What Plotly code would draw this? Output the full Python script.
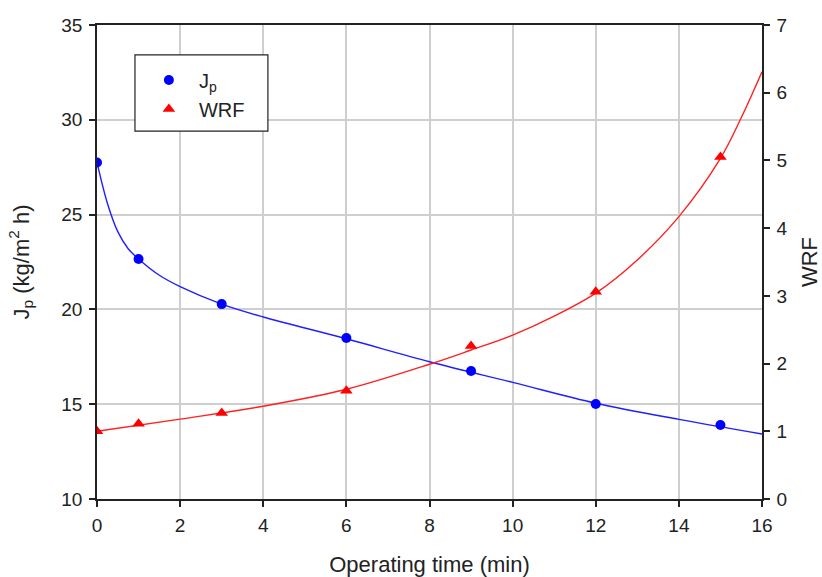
import plotly.graph_objects as go

# measured data
time_min = [0, 1, 3, 6, 9, 12, 15]
jp_vals = [27.75, 22.66, 20.28, 18.49, 16.75, 15.01, 13.9]
wrf_vals = [1.0, 1.11, 1.27, 1.6, 2.26, 3.06, 5.05]

# fitted curves
jp_fit_t = [0, 0.25, 0.5, 0.75, 1, 1.5, 2, 3, 4, 6, 8, 10, 12, 14, 16]
jp_fit_v = [27.75, 25.6, 24.1, 23.2, 22.66, 21.8, 21.2, 20.28, 19.6, 18.45, 17.24, 16.15, 15.05, 14.2, 13.43]
wrf_fit_t = [0, 2, 4, 6, 8, 9, 10, 11, 12, 13, 14, 15, 15.5, 16]
wrf_fit_v = [1.0, 1.18, 1.37, 1.62, 1.99, 2.2, 2.42, 2.7, 3.04, 3.53, 4.17, 5.03, 5.63, 6.31]

x_ticks = [0, 2, 4, 6, 8, 10, 12, 14, 16]
y1_ticks = [10, 15, 20, 25, 30, 35]
y2_ticks = [0, 1, 2, 3, 4, 5, 6, 7]

FONT = "Liberation Sans, Arial, sans-serif"
TXT = "#222222"

fig = go.Figure()
fig.add_trace(go.Scatter(x=jp_fit_t, y=jp_fit_v, mode="lines", line=dict(color="#1f1fff", width=1.4, shape="spline"),
                         showlegend=False, hoverinfo="skip"))
fig.add_trace(go.Scatter(x=wrf_fit_t, y=wrf_fit_v, mode="lines", line=dict(color="#ff2020", width=1.4, shape="spline"),
                         yaxis="y2", showlegend=False, hoverinfo="skip"))
fig.add_trace(go.Scatter(x=time_min, y=jp_vals, mode="markers", name="J<sub>p</sub>",
                         marker=dict(color="#0000ff", size=10, symbol="circle")))
fig.add_trace(go.Scatter(x=time_min, y=wrf_vals, mode="markers", name="WRF", yaxis="y2",
                         marker=dict(color="#ff0000", size=11, symbol="triangle-up")))

fig.update_layout(
    width=822, height=577,
    margin=dict(l=97, r=60, t=25, b=78),
    paper_bgcolor="white", plot_bgcolor="white",
    font=dict(family=FONT, size=19, color=TXT),
    xaxis=dict(range=[0, 16], tickvals=x_ticks, showgrid=True, gridcolor="#cfcfcf", gridwidth=1.5,
               showline=True, linecolor="#222", linewidth=1.5, mirror=True, automargin=False,
               ticks="outside", ticklen=6, tickwidth=1.5, tickcolor="#222", zeroline=False,
               tickfont=dict(size=19), ticklabelstandoff=2,
               title=dict(text="Operating time (min)", font=dict(size=22), standoff=24)),
    yaxis=dict(range=[10, 35], tickvals=y1_ticks, showgrid=True, gridcolor="#cfcfcf", gridwidth=1.5,
               showline=True, linecolor="#222", linewidth=1.5, automargin=False,
               ticks="outside", ticklen=6, tickwidth=1.5, tickcolor="#222", zeroline=False,
               tickfont=dict(size=19), ticklabelstandoff=3,
               title=dict(text="J<sub>p</sub> (kg/m<sup>2</sup> h)", font=dict(size=22), standoff=26)),
    yaxis2=dict(range=[0, 7], tickvals=y2_ticks, overlaying="y", side="right", showgrid=False,
                showline=True, linecolor="#222", linewidth=1.5, automargin=False,
                ticks="outside", ticklen=6, tickwidth=1.5, tickcolor="#222", zeroline=False,
                tickfont=dict(size=19), ticklabelstandoff=3,
                title=dict(text="WRF", font=dict(size=22), standoff=36)),
    legend=dict(x=0.063, y=0.925, xanchor="left", yanchor="top", bgcolor="rgba(0,0,0,0)",
                borderwidth=0, font=dict(size=20), tracegroupgap=2, itemwidth=50),
    showlegend=True,
    shapes=[dict(type="rect", xref="paper", yref="paper", x0=0.0571, x1=0.257, y0=0.776, y1=0.937,
                 line=dict(color="#222", width=1.2), fillcolor="white", layer="above")],
)

fig.write_html("out.html")
